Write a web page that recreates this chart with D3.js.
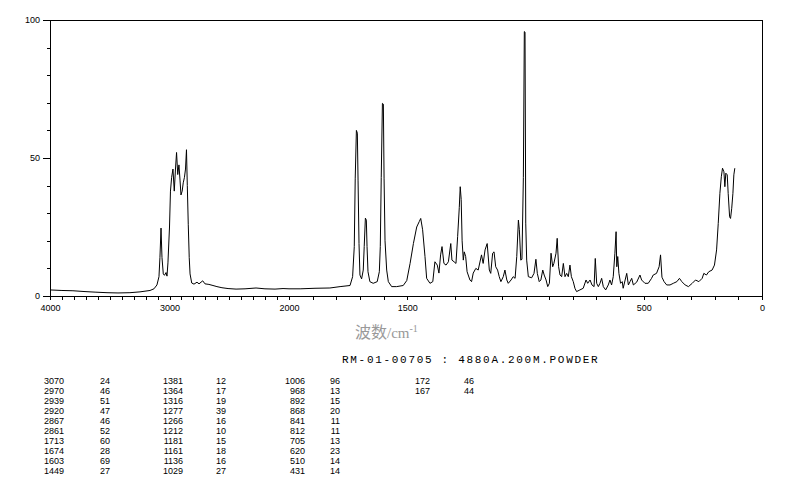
<!DOCTYPE html>
<html>
<head>
<meta charset="utf-8">
<script src="https://cdn.jsdelivr.net/npm/d3@7"></script>
<style>
  body { margin: 0; background: #fff; }
  text { fill: #000; }
</style>
</head>
<body>
<script>
// Raman spectrum RM-01-00705

// spectrum: wavenumber (cm-1) and relative intensity
const wavenumbers = [
  4000, 3900, 3808, 3707, 3623, 3523, 3431, 3331, 3247, 3163, 3130, 3105, 3088, 3080, 3071, 3063,
  3052, 3042, 3029, 3021, 3013, 3000, 2992, 2982, 2971, 2960, 2950, 2941, 2931, 2921, 2912, 2904,
  2894, 2885, 2875, 2866, 2858, 2851, 2843, 2835, 2828, 2814, 2795, 2770, 2753, 2722, 2703, 2670,
  2636, 2603, 2561, 2510, 2443, 2368, 2276, 2201, 2117, 2050, 2000,
  1953, 1890, 1827, 1784, 1742, 1731, 1724, 1720, 1715, 1711, 1708, 1704, 1700, 1693, 1686, 1682,
  1677, 1673, 1670, 1666, 1658, 1644, 1627, 1618, 1614, 1610, 1605, 1601, 1598, 1594, 1587, 1580,
  1566, 1545, 1517, 1502, 1488, 1474, 1460, 1449, 1443, 1435, 1425, 1418, 1404, 1392, 1383, 1373,
  1366, 1359, 1353, 1345, 1336, 1326, 1316, 1311, 1302, 1294, 1287, 1280, 1276, 1272, 1268, 1263,
  1259, 1253, 1247, 1235, 1228, 1221, 1210, 1200, 1186, 1179, 1171, 1162, 1153, 1147, 1139, 1133,
  1126, 1118, 1111, 1104, 1094, 1087, 1079, 1073, 1061, 1052, 1044, 1037, 1030, 1026, 1020, 1015,
  1009, 1005, 1002, 999, 995, 988, 974, 964, 956, 950, 942, 935, 927, 921, 913, 906,
  899, 892, 885, 880, 871, 866, 860, 854, 847, 840, 833, 826, 819, 812, 806, 798,
  791, 784, 770, 756, 744, 737, 727, 719, 710, 705, 699, 692, 685, 678, 671, 661,
  650, 643, 636, 629, 622, 617, 614, 610, 605, 598, 591, 587, 572, 565, 558, 551,
  544, 530, 516, 509, 495, 481, 467, 460, 446, 435, 429, 423, 414, 403, 389, 375,
  360, 349, 339, 325, 311, 295, 281, 267, 253, 246, 235, 225, 211, 201, 192, 185,
  178, 172, 167, 161, 157, 153, 147, 143, 137, 133, 128, 123, 119, 115
];
const intensities = [
  2.2, 2.0, 1.9, 1.6, 1.4, 1.2, 1.1, 1.2, 1.5, 2.0, 2.6, 4.0, 7, 14, 24.6, 14,
  8, 7.5, 8.5, 7.2, 12, 25, 38, 43, 46, 38, 46, 52, 44, 47.5, 42, 36.6,
  38, 41, 43, 46, 53, 40, 26, 14, 8, 4.7, 4.3, 5.0, 4.4, 5.5, 4.4, 4.2,
  3.8, 3.4, 3.0, 2.7, 2.5, 2.6, 2.9, 2.6, 2.5, 2.7, 2.6,
  2.6, 2.8, 2.9, 3.4, 3.8, 7, 17.9, 42.7, 60, 59, 42, 19, 7.6, 6.2, 9.4, 17.9,
  28.2, 27.5, 17.9, 8.8, 5.2, 4.6, 5.2, 8.8, 17.9, 43, 69.8, 69.5, 42.7, 20, 9.4, 5.2,
  3.4, 3.4, 3.8, 5.6, 11.8, 19, 25, 27, 28.1, 24, 14.3, 6.4, 4.6, 5.2, 12.4, 11.2,
  8.3, 14.9, 17.9, 11.8, 11.2, 12.4, 19, 13, 12.4, 11.8, 21.5, 32, 39.6, 35, 20, 13,
  16, 14.3, 8.8, 5.8, 5.2, 8.3, 10, 9.4, 14.9, 11.8, 16.7, 19, 9.4, 8.2, 15.5, 16,
  10.6, 9.4, 7, 5.2, 7, 9.4, 5.8, 4.6, 5.8, 7, 6.4, 14.3, 27.5, 24, 13, 13.3,
  43, 95.8, 95.6, 26.4, 13, 7, 6.6, 8.2, 13.3, 8.2, 5.2, 5.8, 9.4, 7.6, 5.8, 3.4,
  4.6, 15.5, 10.6, 11.8, 15.5, 20.9, 10.6, 7.6, 7, 11.8, 7, 8.2, 7, 11.2, 7, 5.2,
  2.8, 1.6, 2.2, 2.8, 5.8, 4.6, 5.8, 4, 3.4, 13.6, 4.6, 3.4, 4.6, 6.4, 3.4, 2.2,
  4, 5.8, 4, 7, 15.5, 23.3, 10.6, 14.3, 8.2, 4.6, 5.2, 2.8, 8.2, 4, 5.2, 6.4,
  4, 5, 7.6, 5.8, 4.6, 4.6, 6.4, 7.6, 8.2, 10.6, 14.9, 6.8, 5.2, 4, 4, 4.6,
  5.2, 6.4, 5.2, 4, 3.4, 4.6, 5.8, 5.2, 6.4, 8.2, 7.6, 8.8, 9.4, 11.2, 16.7, 26.3,
  37.2, 43.2, 46.3, 45, 39.6, 44.5, 43.9, 37.2, 28.7, 28.1, 31.8, 37.2, 43.9, 46.3
];

// axis labels
const xLabels = [4000, 3000, 2000, 1500, 500, 0];
const yLabels = [0, 50, 100];

// peak table (wavenumber, intensity), four columns
const peakWn = [
  [3070, 2970, 2939, 2920, 2867, 2861, 1713, 1674, 1603, 1449],
  [1381, 1364, 1316, 1277, 1266, 1212, 1181, 1161, 1136, 1029],
  [1006, 968, 892, 868, 841, 812, 705, 620, 510, 431],
  [172, 167]
];
const peakInt = [
  [24, 46, 51, 47, 46, 52, 60, 28, 69, 27],
  [12, 17, 19, 39, 16, 10, 15, 18, 16, 27],
  [96, 13, 15, 20, 11, 11, 13, 23, 14, 14],
  [46, 44]
];

const title = 'RM-01-00705 : 4880A.200M.POWDER';

const svg = d3.select('body').append('svg')
    .attr('width', 794)
    .attr('height', 482);

// x scale is compressed above 2000 cm-1
const x = d3.scaleLinear().domain([4000, 2000, 0]).range([50, 289, 762]);
const y = d3.scaleLinear().domain([0, 100]).range([296, 20]);

const font = 'Liberation Sans, Arial, sans-serif';

// frame
svg.append('path')
    .attr('d', `M${x(4000)},${y(100)}H${x(0)}V${y(0) + 4}`)
    .attr('fill', 'none')
    .attr('stroke', '#000')
    .attr('shape-rendering', 'crispEdges');

// bottom axis
const xAxis = d3.axisBottom(x)
    .tickValues(d3.range(0, 4001, 100))
    .tickSize(4)
    .tickSizeOuter(0)
    .tickFormat(d => xLabels.includes(d) ? d : '');

const gx = svg.append('g')
    .attr('transform', `translate(0,${y(0)})`)
    .call(xAxis);
gx.selectAll('text').attr('dy', '0.9em').style('font', `9px ${font}`);

// left axis
const yAxis = d3.axisLeft(y)
    .tickValues(d3.range(0, 101, 10))
    .tickSize(3)
    .tickSizeOuter(0)
    .tickFormat(d => yLabels.includes(d) ? d : '');

const gy = svg.append('g')
    .attr('transform', `translate(${x(4000)},0)`)
    .call(yAxis);
gy.selectAll('.tick line').attr('x2', d => yLabels.includes(d) ? -7 : -3);
gy.selectAll('text').attr('x', -10).style('font', `9px ${font}`);

svg.selectAll('.domain, .tick line').attr('shape-rendering', 'crispEdges');

// spectrum
const line = d3.line()
    .x(d => x(d[0]))
    .y(d => y(d[1]));

svg.append('path')
    .datum(wavenumbers.map((w, i) => [w, intensities[i]]))
    .attr('d', line)
    .attr('fill', 'none')
    .attr('stroke', '#000')
    .attr('stroke-width', 1);

// axis title
const xt = svg.append('text')
    .attr('x', 355)
    .attr('y', 338)
    .style('font', '16px "Noto Sans CJK SC", serif')
    .style('fill', '#999');
xt.append('tspan').text('波数');
xt.append('tspan').style('font', '15px "Liberation Serif", serif').text('/cm');
xt.append('tspan').attr('dy', -6).style('font', '10px "Liberation Serif", serif').text('-1');

svg.append('text')
    .attr('x', 342)
    .attr('y', 363)
    .style('font', '11px "Liberation Mono", monospace')
    .style('letter-spacing', '1.7px')
    .text(title);

// peak table
const colWn = [64, 183, 305, 430];
const colInt = [110, 226, 340, 474];

peakWn.forEach((col, c) => {
  const g = svg.append('g').style('font', `9px ${font}`);
  g.selectAll('.wn')
    .data(col)
    .enter().append('text')
      .attr('x', colWn[c])
      .attr('y', (d, i) => 384 + i * 10)
      .attr('text-anchor', 'end')
      .text(d => d);
  g.selectAll('.int')
    .data(peakInt[c])
    .enter().append('text')
      .attr('x', colInt[c])
      .attr('y', (d, i) => 384 + i * 10)
      .attr('text-anchor', 'end')
      .text(d => d);
});
</script>
</body>
</html>
